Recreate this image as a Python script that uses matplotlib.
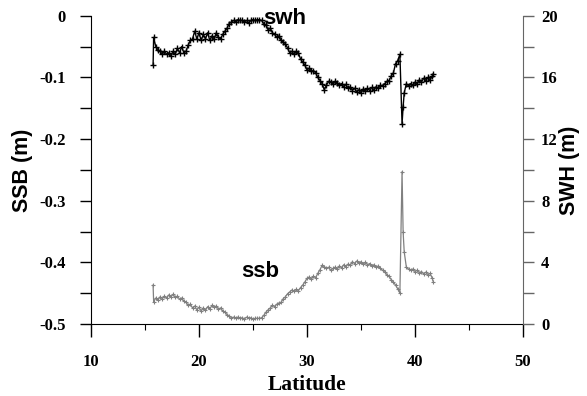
import matplotlib
matplotlib.use("Agg")
import matplotlib.pyplot as plt
from matplotlib.ticker import MultipleLocator

# ── Données ──────────────────────────────────────────────────────────────────
latitude = [15.75, 15.8,
            16.0, 16.2, 16.4, 16.6, 16.8, 17.0, 17.2, 17.4, 17.6, 17.8,
            18.0, 18.2, 18.4, 18.6, 18.8, 19.0, 19.2, 19.4, 19.6, 19.8,
            20.0, 20.2, 20.4, 20.6, 20.8, 21.0, 21.2, 21.4, 21.6, 21.8,
            22.0, 22.2, 22.4, 22.6, 22.8, 23.0, 23.2, 23.4, 23.6, 23.8,
            24.0, 24.2, 24.4, 24.6, 24.8, 25.0, 25.2, 25.4, 25.6, 25.8,
            26.0, 26.2, 26.4, 26.6, 26.8, 27.0, 27.2, 27.4, 27.6, 27.8,
            28.0, 28.2, 28.4, 28.6, 28.8, 29.0, 29.2, 29.4, 29.6, 29.8,
            30.0, 30.2, 30.4, 30.6, 30.8, 31.0, 31.2, 31.4, 31.6, 31.8,
            32.0, 32.2, 32.4, 32.6, 32.8, 33.0, 33.2, 33.4, 33.6, 33.8,
            34.0, 34.2, 34.4, 34.6, 34.8, 35.0, 35.2, 35.4, 35.6, 35.8,
            36.0, 36.2, 36.4, 36.6, 36.8, 37.0, 37.2, 37.4, 37.6, 37.8,
            38.0, 38.2, 38.4, 38.6,
            38.8, 38.9, 39.0, 39.2, 39.4, 39.6, 39.8,
            40.0, 40.2, 40.4, 40.6, 40.8, 41.0, 41.2, 41.4, 41.6, 41.7]

swh = [16.8, 18.6,
       18.0, 17.8, 17.7, 17.5, 17.7, 17.5, 17.6, 17.4, 17.7, 17.5,
       17.9, 17.6, 18.0, 17.6, 17.7, 18.1, 18.4, 18.5, 19.0, 18.5,
       18.9, 18.4, 18.8, 18.5, 18.9, 18.4, 18.7, 18.5, 18.9, 18.6,
       18.5, 18.8, 19.0, 19.2, 19.5, 19.6, 19.7, 19.6, 19.75, 19.7,
       19.7, 19.6, 19.7, 19.55, 19.7, 19.75, 19.7, 19.75, 19.75, 19.7,
       19.5, 19.4, 19.1, 19.2, 18.9, 18.8, 18.6, 18.7, 18.4, 18.3,
       18.2, 17.9, 17.6, 17.7, 17.5, 17.7, 17.6, 17.2, 17.0, 16.8,
       16.5, 16.6, 16.4, 16.45, 16.3, 16.0, 15.8, 15.6, 15.2, 15.5,
       15.75, 15.7, 15.6, 15.75, 15.65, 15.5, 15.6, 15.4, 15.55, 15.3,
       15.4, 15.15, 15.3, 15.05, 15.2, 15.0, 15.25, 15.1, 15.3, 15.15,
       15.35, 15.2, 15.4, 15.3, 15.5, 15.45, 15.6, 15.75, 15.8, 16.1,
       16.3, 16.9, 17.1, 17.5,
       13.0, 14.1, 15.0, 15.6, 15.45, 15.6, 15.5,
       15.7, 15.6, 15.85, 15.7, 15.95, 15.8, 16.0, 15.85, 16.1, 16.2]

ssb = [-0.437, -0.464,
       -0.458, -0.461, -0.456, -0.459, -0.455, -0.458, -0.453, -0.456, -0.452, -0.457,
       -0.455, -0.460, -0.458, -0.463, -0.465, -0.470, -0.468, -0.474, -0.471, -0.477,
       -0.473, -0.479, -0.474, -0.478, -0.472, -0.476, -0.470, -0.473, -0.471, -0.476,
       -0.474, -0.479, -0.481, -0.485, -0.487, -0.490, -0.489, -0.491, -0.489, -0.491,
       -0.490, -0.492, -0.489, -0.491, -0.490, -0.492, -0.491, -0.491, -0.491, -0.490,
       -0.486, -0.481, -0.477, -0.474, -0.470, -0.472, -0.468, -0.466, -0.465, -0.459,
       -0.456, -0.451, -0.448, -0.445, -0.447, -0.444, -0.446, -0.441, -0.437, -0.432,
       -0.426, -0.424, -0.427, -0.423, -0.425, -0.418, -0.412, -0.405, -0.407, -0.410,
       -0.408, -0.413, -0.410, -0.408, -0.411, -0.406, -0.409, -0.404, -0.407, -0.403,
       -0.405, -0.399, -0.402, -0.398, -0.401, -0.399, -0.403, -0.400, -0.404, -0.402,
       -0.406, -0.404, -0.408, -0.406, -0.410, -0.413, -0.416, -0.420, -0.423, -0.428,
       -0.432, -0.437, -0.443, -0.450,
       -0.253, -0.351, -0.383, -0.408, -0.411, -0.413, -0.411,
       -0.415, -0.413, -0.417, -0.415, -0.419, -0.416, -0.420, -0.418, -0.426, -0.432]

x_ticks = [10, 20, 30, 40, 50]
ssb_ticks = [0, -0.1, -0.2, -0.3, -0.4, -0.5]
ssb_labels = ['0', '-0.1', '-0.2', '-0.3', '-0.4', '-0.5']
swh_ticks = [0, 4, 8, 12, 16, 20]

SERIF = 'Liberation Serif'
SANS = 'Liberation Sans'
plt.rcParams['font.family'] = SERIF
plt.rcParams['font.weight'] = 'bold'
plt.rcParams['axes.labelweight'] = 'bold'

tick_font = dict(family=SERIF, fontweight='bold', fontsize=12)

# ── Figure ───────────────────────────────────────────────────────────────────
fig, ax = plt.subplots(figsize=(5.87, 3.96), dpi=100)
fig.subplots_adjust(left=0.155, right=0.891, top=0.96, bottom=0.182)
ax2 = ax.twinx()

ax.plot(latitude, ssb, '-', color='#808080', lw=0.9, marker='+', ms=3.5, mew=0.8)
ax2.plot(latitude, swh, '-', color='black', lw=1.0, marker='+', ms=3.8, mew=1.0)

ax.set_xlim(10, 50)
ax.set_ylim(-0.5, 0)
ax2.set_ylim(0, 20)

ax.set_xticks(x_ticks, labels=[str(v) for v in x_ticks], **tick_font)
ax.xaxis.set_minor_locator(MultipleLocator(5))
ax.set_yticks(ssb_ticks, labels=ssb_labels, **tick_font)
ax.yaxis.set_minor_locator(MultipleLocator(0.05))
ax2.set_yticks(swh_ticks, labels=[str(v) for v in swh_ticks], **tick_font)
ax2.yaxis.set_minor_locator(MultipleLocator(2))

for a in (ax, ax2):
    a.spines['top'].set_visible(False)
ax.spines['right'].set_visible(False)
ax2.spines['left'].set_visible(False)
ax2.spines['bottom'].set_visible(False)
ax2.spines['right'].set_color('#666666')

ax.tick_params(axis='x', which='major', direction='out', length=9, width=1, pad=13)
ax.tick_params(axis='x', which='minor', direction='out', length=4, width=0.8)
ax.tick_params(axis='y', which='both', direction='out', length=8, width=1, pad=10)
ax2.tick_params(axis='y', which='both', direction='out', length=8, width=1,
                color='#666666', pad=5)

ax.set_xlabel('Latitude', family=SERIF, fontweight='bold', fontsize=15.5, labelpad=3)
ax.set_ylabel('SSB (m)', family=SANS, fontweight='bold', fontsize=15.5, labelpad=5)
ax2.set_ylabel('SWH (m)', family=SANS, fontweight='bold', fontsize=15.5,
               rotation=90, labelpad=1)

ax2.text(27.9, 19.85, 'swh', family=SANS, fontweight='bold', fontsize=16,
         ha='center', va='center')
ax.text(25.7, -0.415, 'ssb', family=SANS, fontweight='bold', fontsize=16,
        ha='center', va='center')

plt.savefig('out.png', dpi=100)
